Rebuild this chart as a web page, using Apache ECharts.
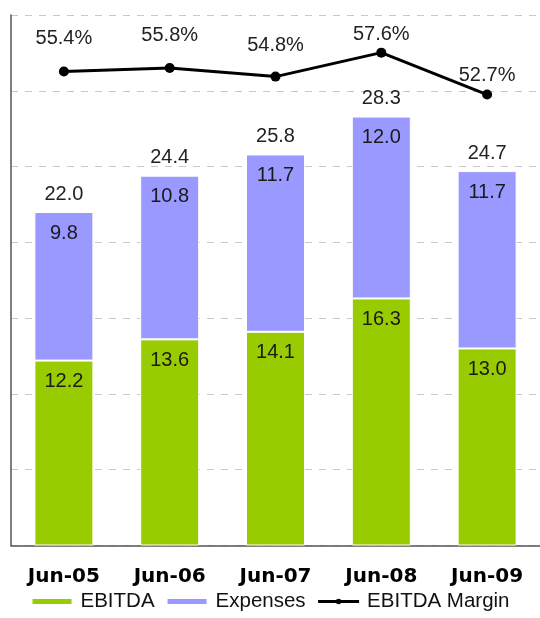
<!DOCTYPE html>
<html>
<head>
<meta charset="utf-8">
<style>
  html, body { margin: 0; padding: 0; background: #fff; }
  #chart { width: 540px; height: 618px; }
</style>
<script src="https://cdn.jsdelivr.net/npm/echarts@6/dist/echarts.min.js"></script>
</head>
<body>
<div id="chart"></div>
<script>
// Fiscal years shown on the category axis
const periods = ['Jun-05', 'Jun-06', 'Jun-07', 'Jun-08', 'Jun-09'];
// Stacked bar segments
const ebitda = [12.2, 13.6, 14.1, 16.3, 13.0];
const expenses = [9.8, 10.8, 11.7, 12.0, 11.7];
// EBITDA margin, in percent
const ebitdaMargin = [55.4, 55.8, 54.8, 57.6, 52.7];

// Stack totals printed above each bar
const totals = ebitda.map((v, i) => v + expenses[i]);

// Gap between each margin point and its label
const marginLabelGap = [18, 18, 16, 3, 4];

const labelFont = 'Liberation Sans, Arial, sans-serif';

const chart = echarts.init(document.getElementById('chart'), null, { renderer: 'canvas' });

chart.setOption({
  animation: false,
  backgroundColor: '#ffffff',
  grid: { left: 11, right: -2, top: 15, bottom: 72.5, containLabel: false },
  legend: {
    bottom: 1,
    left: 'center',
    itemWidth: 41,
    itemHeight: 7,
    itemGap: 11,
    data: [
      { name: 'EBITDA', icon: 'rect' },
      { name: 'Expenses', icon: 'rect' },
      { name: 'EBITDA Margin', lineStyle: { width: 3, color: '#000' }, itemStyle: { color: '#000' } }
    ],
    textStyle: { fontFamily: labelFont, fontSize: 20.5, color: '#111', padding: [0, 0, 0, 3] }
  },
  xAxis: {
    type: 'category',
    data: periods,
    axisLine: { show: true, lineStyle: { color: '#555', width: 1.5 } },
    axisTick: { show: false },
    axisLabel: {
      margin: 21,
      fontFamily: 'DejaVu Sans, sans-serif',
      fontWeight: 'bold',
      fontSize: 20,
      color: '#000'
    }
  },
  yAxis: [
    {
      type: 'value',
      min: 0,
      max: 35,
      interval: 5,
      axisLine: { show: true, lineStyle: { color: '#555', width: 1.5 } },
      axisTick: { show: false },
      axisLabel: { show: false },
      splitLine: { show: true, lineStyle: { color: '#c8c8c8', type: [7, 7], width: 1 } }
    },
    {
      type: 'value',
      min: 0,
      max: 62,
      show: false,
      splitLine: { show: false }
    }
  ],
  series: [
    {
      name: 'EBITDA',
      type: 'bar',
      stack: 'total',
      barWidth: 59,
      data: ebitda,
      itemStyle: { color: '#99cc00', borderColor: '#ffffff', borderWidth: 1 },
      label: {
        show: true,
        position: 'insideTop',
        distance: 11,
        formatter: p => p.value.toFixed(1),
        fontFamily: labelFont,
        fontSize: 20,
        color: '#1a1a1a'
      }
    },
    {
      name: 'Expenses',
      type: 'bar',
      stack: 'total',
      barWidth: 59,
      data: expenses,
      itemStyle: { color: '#9999ff', borderColor: '#ffffff', borderWidth: 1 },
      label: {
        show: true,
        position: 'insideTop',
        distance: 11,
        formatter: p => p.value.toFixed(1),
        fontFamily: labelFont,
        fontSize: 20,
        color: '#1a1a1a'
      }
    },
    {
      // zero-height cap carrying the stack total label
      name: 'Total',
      type: 'bar',
      stack: 'total',
      barWidth: 59,
      data: totals.map(() => 0),
      itemStyle: { color: 'rgba(0,0,0,0)' },
      label: {
        show: true,
        position: 'top',
        distance: 8,
        formatter: p => totals[p.dataIndex].toFixed(1),
        fontFamily: labelFont,
        fontSize: 20,
        color: '#222'
      }
    },
    {
      name: 'EBITDA Margin',
      type: 'line',
      yAxisIndex: 1,
      z: 5,
      data: ebitdaMargin.map((v, i) => ({ value: v, label: { distance: marginLabelGap[i] } })),
      symbol: 'circle',
      symbolSize: 10,
      lineStyle: { color: '#000', width: 3 },
      itemStyle: { color: '#000' },
      label: {
        show: true,
        position: 'top',
        formatter: p => p.value.toFixed(1) + '%',
        fontFamily: labelFont,
        fontSize: 20,
        color: '#222'
      }
    }
  ]
});
</script>
</body>
</html>
